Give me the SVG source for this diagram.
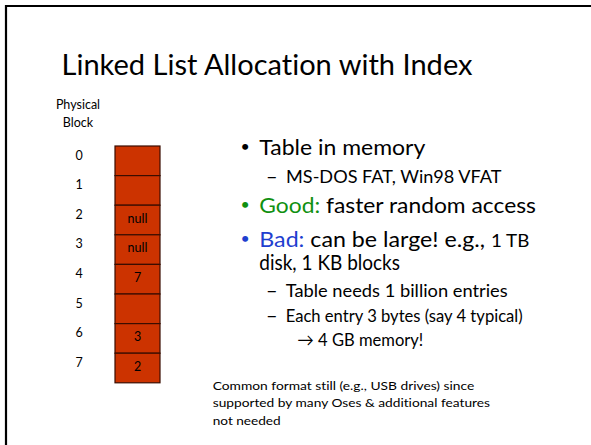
<svg xmlns="http://www.w3.org/2000/svg" width="591" height="445" viewBox="0 0 591 445">
<style>
text{font-family:Lato,"Open Sans","Liberation Sans",sans-serif;fill:#000;font-variant-ligatures:none;font-feature-settings:"liga" 0,"dlig" 0}
.cell{fill:#cc3300;stroke:#3a0d00;stroke-width:1.2}
.lbl{font-size:12.5px;text-anchor:middle}
.b1{font-size:21px}
.b2{font-size:17.5px}
.dot{font-size:16px}
.dash{font-size:20px}
.sm{font-size:10.5px}
.good{fill:#109010}
.bad{fill:#1f3fcf}
</style>
<rect x="0" y="0" width="591" height="445" fill="#fff"/>
<g id="frame">
<line x1="6" y1="6" x2="591" y2="6" stroke="#000" stroke-width="2.2"/>
<line x1="6" y1="5" x2="6" y2="445" stroke="#000" stroke-width="2.2"/>
</g>
<g id="title"><text x="61.5" y="75" font-size="29" textLength="411" lengthAdjust="spacingAndGlyphs">Linked List Allocation with Index</text></g>
<g id="axis-label">
<text class="lbl" x="78" y="109">Physical</text>
<text class="lbl" x="78" y="127">Block</text>
</g>
<g id="row-labels">
<text class="lbl" x="79" y="159.5">0</text>
<text class="lbl" x="79" y="189.2">1</text>
<text class="lbl" x="79" y="218.8">2</text>
<text class="lbl" x="79" y="248.4">3</text>
<text class="lbl" x="79" y="278">4</text>
<text class="lbl" x="79" y="307.6">5</text>
<text class="lbl" x="79" y="337.2">6</text>
<text class="lbl" x="79" y="366.8">7</text>
</g>
<g id="table">
<rect class="cell" x="115" y="146" width="45" height="29.6"/>
<rect class="cell" x="115" y="175.6" width="45" height="29.6"/>
<rect class="cell" x="115" y="205.2" width="45" height="29.6"/>
<rect class="cell" x="115" y="234.8" width="45" height="29.6"/>
<rect class="cell" x="115" y="264.4" width="45" height="29.6"/>
<rect class="cell" x="115" y="294" width="45" height="29.6"/>
<rect class="cell" x="115" y="323.6" width="45" height="29.6"/>
<rect class="cell" x="115" y="353.2" width="45" height="29.6"/>
<text class="lbl" x="137.5" y="222.5">null</text>
<text class="lbl" x="137.5" y="252">null</text>
<text class="lbl" x="137.5" y="281.7">7</text>
<text class="lbl" x="137.5" y="341">3</text>
<text class="lbl" x="137.5" y="370.5">2</text>
</g>
<g id="bullets">
<text class="dot" x="240.5" y="152">•</text>
<text class="b1" x="259.3" y="155" textLength="166" lengthAdjust="spacingAndGlyphs">Table in memory</text>
<text class="dash" x="266" y="183.3">–</text>
<text class="b2" x="286" y="183.3" textLength="215.5" lengthAdjust="spacingAndGlyphs">MS-DOS FAT, Win98 VFAT</text>
<text class="dot good" x="240.5" y="210.3">•</text>
<text class="b1" x="259.3" y="213.3" textLength="276.7" lengthAdjust="spacingAndGlyphs"><tspan class="good">Good:</tspan> faster random access</text>
<text class="dot bad" x="240.5" y="243.7">•</text>
<text class="b1" x="259.3" y="246.7" textLength="270" lengthAdjust="spacingAndGlyphs"><tspan class="bad">Bad:</tspan> can be large! e.g., <tspan font-size="17">1 TB</tspan></text>
<text class="b1" x="259.3" y="270" textLength="140.7" lengthAdjust="spacingAndGlyphs">disk, 1 KB blocks</text>
<text class="dash" x="266" y="297.3">–</text>
<text class="b2" x="285.7" y="297.3" textLength="222" lengthAdjust="spacingAndGlyphs">Table needs 1 billion entries</text>
<text class="dash" x="266" y="321.7">–</text>
<text class="b2" x="285.7" y="321.7" textLength="237" lengthAdjust="spacingAndGlyphs">Each entry 3 bytes (say 4 typical)</text>
<text class="b2" x="297.3" y="346" textLength="126" lengthAdjust="spacingAndGlyphs">→ 4 GB memory!</text>
</g>
<g id="note">
<text class="sm" x="212.7" y="390" textLength="261.6" lengthAdjust="spacingAndGlyphs">Common format still (e.g., USB drives) since</text>
<text class="sm" x="212.7" y="407.3" textLength="277.3" lengthAdjust="spacingAndGlyphs">supported by many Oses &amp; additional features</text>
<text class="sm" x="212.7" y="425" textLength="68" lengthAdjust="spacingAndGlyphs">not needed</text>
</g>
</svg>
